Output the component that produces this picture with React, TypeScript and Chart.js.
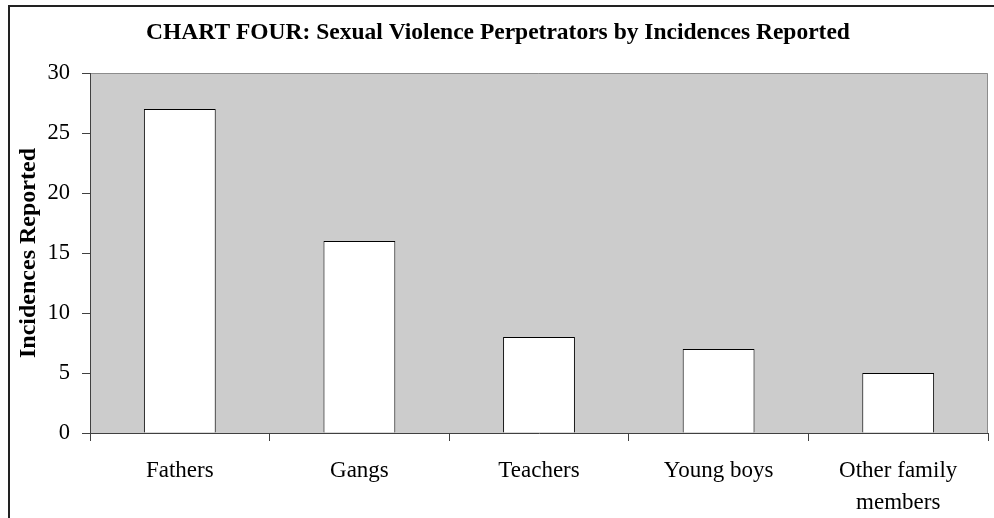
import React, { useEffect, useRef } from "react";
import { Chart, registerables } from "chart.js";

Chart.register(...registerables);

const chartTitle = "CHART FOUR: Sexual Violence Perpetrators by Incidences Reported";
const yAxisTitle = "Incidences Reported";
const categories: (string | string[])[] = ["Fathers", "Gangs", "Teachers", "Young boys", ["Other family", "members"]];
const incidences = [27, 16, 8, 7, 5];
const yTicks = [0, 5, 10, 15, 20, 25, 30];

const FONT = "'Liberation Serif', 'Times New Roman', serif";

const decorPlugin = {
  id: "decor",
  beforeDraw(chart: any) {
    const { ctx, chartArea: a } = chart;
    ctx.save();
    ctx.fillStyle = "#ffffff";
    ctx.fillRect(0, 0, chart.width, chart.height);
    // outer frame
    ctx.strokeStyle = "#222222";
    ctx.lineWidth = 2;
    ctx.strokeRect(9, 6, chart.width + 20, chart.height + 20);
    // plot area
    ctx.fillStyle = "#cccccc";
    ctx.fillRect(a.left, a.top, a.right - a.left, a.bottom - a.top);
    ctx.strokeStyle = "#8c8c8c";
    ctx.lineWidth = 1;
    ctx.beginPath();
    ctx.moveTo(a.left, a.top + 0.5);
    ctx.lineTo(a.right - 0.5, a.top + 0.5);
    ctx.lineTo(a.right - 0.5, a.bottom);
    ctx.stroke();
    // title
    ctx.fillStyle = "#000000";
    ctx.font = `bold 23.5px ${FONT}`;
    ctx.textAlign = "center";
    ctx.textBaseline = "alphabetic";
    ctx.fillText(chartTitle, 498, 39);
    // y axis title
    ctx.font = `bold 24px ${FONT}`;
    ctx.translate(35, 253);
    ctx.rotate(-Math.PI / 2);
    ctx.fillText(yAxisTitle, 0, 0);
    ctx.restore();
  },
};

export default function App() {
  const ref = useRef<HTMLCanvasElement | null>(null);
  useEffect(() => {
    if (!ref.current) return;
    const chart = new Chart(ref.current, {
      type: "bar",
      data: {
        labels: categories,
        datasets: [
          {
            data: incidences,
            backgroundColor: "#ffffff",
            borderColor: "#000000",
            borderWidth: 1,
            barPercentage: 0.4,
            categoryPercentage: 1.0,
          },
        ],
      },
      options: {
        animation: false,
        responsive: false,
        maintainAspectRatio: false,
        devicePixelRatio: 1,
        layout: { padding: { top: 73, right: 6, left: 0, bottom: 0 } },
        plugins: {
          legend: { display: false },
          title: { display: false },
          tooltip: { enabled: false },
        },
        scales: {
          x: {
            afterFit(scale: any) {
              scale.height = 85;
            },
            grid: {
              display: true,
              drawOnChartArea: false,
              drawTicks: true,
              tickLength: 8,
              color: "#404040",
              offset: true,
            },
            border: { display: true, color: "#404040", width: 1 },
            ticks: {
              color: "#000000",
              font: { family: FONT, size: 23, lineHeight: 1.4 },
              padding: 14,
              maxRotation: 0,
              autoSkip: false,
            },
          },
          y: {
            min: 0,
            max: 30,
            afterFit(scale: any) {
              scale.width = 90;
            },
            afterBuildTicks(scale: any) {
              scale.ticks = yTicks.map((v) => ({ value: v }));
            },
            grid: {
              display: true,
              drawOnChartArea: false,
              drawTicks: true,
              tickLength: 8,
              color: "#404040",
            },
            border: { display: true, color: "#404040", width: 1 },
            ticks: {
              color: "#000000",
              font: { family: FONT, size: 22.5 },
              padding: 12,
              stepSize: 5,
            },
          },
        },
      },
      plugins: [decorPlugin],
    });
    return () => chart.destroy();
  }, []);
  return (
    <div style={{ position: "absolute", left: 0, top: 0, width: 994, height: 518 }}>
      <canvas ref={ref} width={994} height={518} style={{ width: 994, height: 518, display: "block" }} />
    </div>
  );
}
